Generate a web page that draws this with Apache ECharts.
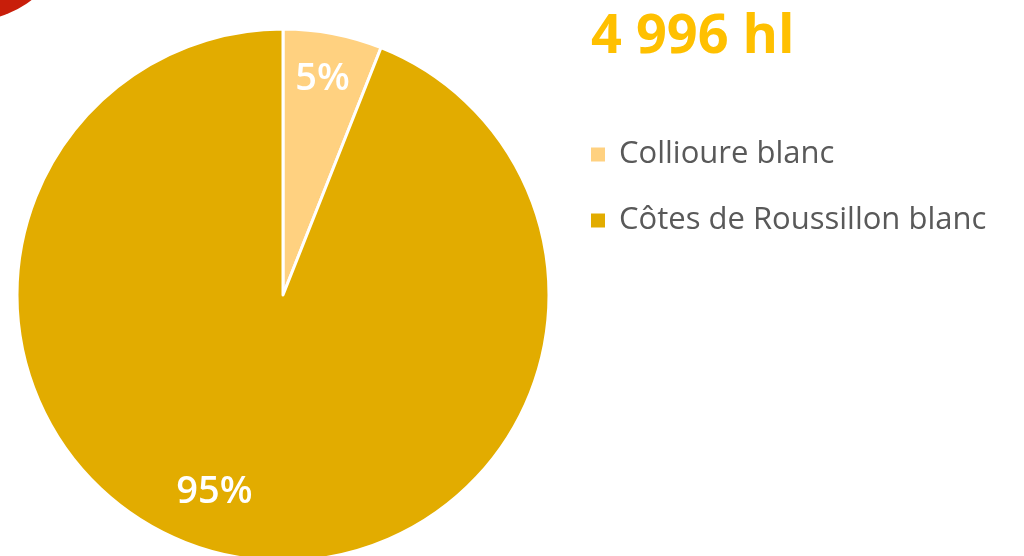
<!DOCTYPE html>
<html>
<head>
<meta charset="utf-8">
<script src="https://cdn.jsdelivr.net/npm/echarts@6/dist/echarts.min.js"></script>
<style>
  html, body { margin: 0; padding: 0; background: #fff; }
  #chart { width: 1024px; height: 556px; }
</style>
</head>
<body>
<div id="chart"></div>
<script>
// data
const categories = ['Collioure blanc', 'Côtes de Roussillon blanc'];
const volumes = [300, 4696];          // hl, total 4 996 hl
const shareLabels = ['5%', '95%'];    // labels as printed on the slices
const totalLabel = '4 996 hl';
const colors = ['#FFD180', '#E2AC00'];

const chart = echarts.init(document.getElementById('chart'));
window.onresize = () => { chart.resize() };

const option = {
  animation: false,
  title: {
    text: totalLabel,
    left: 586,
    top: 6,
    textStyle: {
      color: '#FFC000',
      fontFamily: 'Open Sans',
      fontWeight: 'bold',
      fontSize: 54
    }
  },
  legend: {
    orient: 'vertical',
    left: 589,
    top: 139,
    padding: 0,
    itemWidth: 16,
    itemHeight: 16,
    itemGap: 35,
    icon: 'rect',
    data: categories,
    textStyle: {
      color: '#595959',
      fontFamily: 'Open Sans',
      fontSize: 31,
      lineHeight: 31,
      padding: [0, 0, 0, 8]
    }
  },
  // red corner decoration, top left
  graphic: [{
    type: 'circle',
    shape: { cx: -30, cy: -80, r: 101 },
    style: { fill: '#C81E0A' }
  }],
  series: [{
    type: 'pie',
    center: [283, 295],
    radius: 266,
    startAngle: 90,
    clockwise: true,
    itemStyle: {
      borderColor: '#fff',
      borderWidth: 3
    },
    label: {
      show: true,
      position: 'inside',
      color: '#fff',
      fontFamily: 'Open Sans',
      fontWeight: 600,
      fontSize: 38,
      formatter: (p) => shareLabels[p.dataIndex]
    },
    labelLine: { show: false },
    labelLayout: (params) => {
      // push the labels from mid radius towards the rim like the original
      return params.dataIndex === 0 ? { dx: 14, dy: -82 } : { dx: -43, dy: 64 };
    },
    data: categories.map((name, i) => ({
      name: name,
      value: volumes[i],
      itemStyle: { color: colors[i] }
    }))
  }]
};
chart.setOption(option);
</script>
</body>
</html>
